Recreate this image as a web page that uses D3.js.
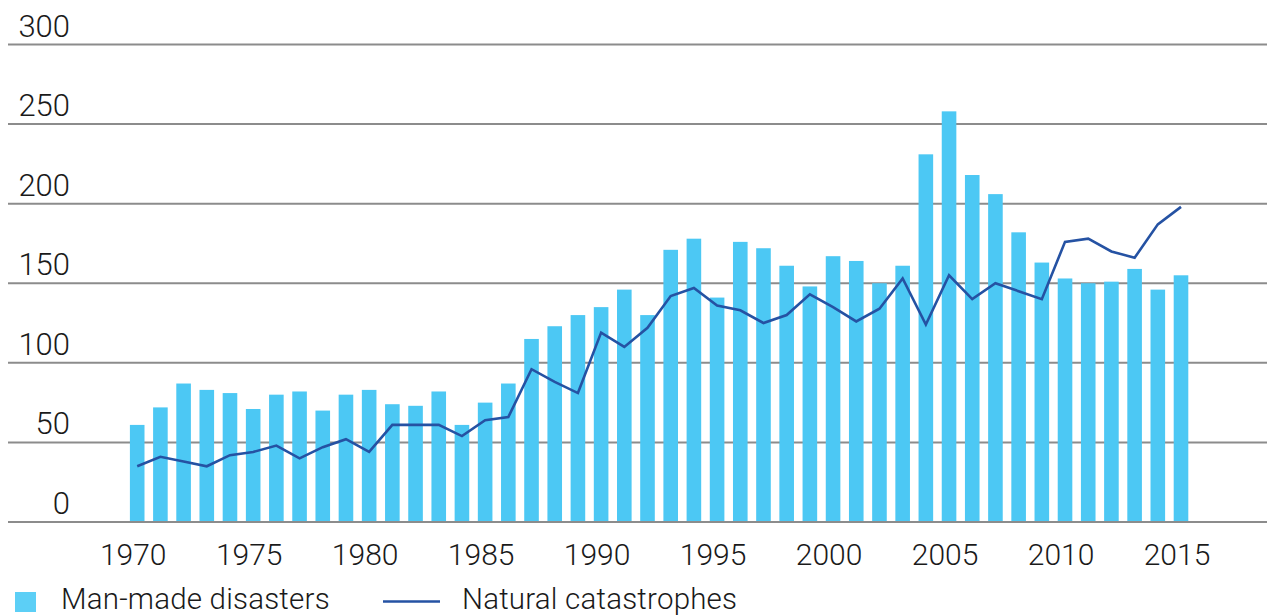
<!DOCTYPE html>
<html>
<head>
<meta charset="utf-8">
<script src="https://cdn.jsdelivr.net/npm/d3@7"></script>
<style>
  html, body { margin: 0; padding: 0; background: #fff; }
  svg { display: block; }
  text { font-family: Roboto, "Liberation Sans", Arial, sans-serif; font-weight: 300; fill: #1a1a1a; }
</style>
</head>
<body>
<svg id="chart" width="1267" height="616"></svg>
<script>
const years = d3.range(1970, 2016);
const manMade = [61, 72, 87, 83, 81, 71, 80, 82, 70, 80,
                 83, 74, 73, 82, 61, 75, 87, 115, 123, 130,
                 135, 146, 130, 171, 178, 141, 176, 172, 161, 148,
                 167, 164, 150, 161, 231, 258, 218, 206, 182, 163,
                 153, 150, 151, 159, 146, 155];
const natural = [35, 41, 38, 35, 42, 44, 48, 40, 47, 52,
                 44, 61, 61, 61, 54, 64, 66, 96, 88, 81,
                 119, 110, 122, 142, 147, 136, 133, 125, 130, 143,
                 135, 126, 134, 153, 124, 155, 140, 150, 145, 140,
                 176, 178, 170, 166, 187, 198];
const yTicks = [0, 50, 100, 150, 200, 250, 300];
const xTicks = [1970, 1975, 1980, 1985, 1990, 1995, 2000, 2005, 2010, 2015];
const legendLabels = ["Man-made disasters", "Natural catastrophes"];

const svg = d3.select("#chart");
const x = d3.scaleLinear().domain([1970, 2015]).range([137.2, 1181]);
const y = d3.scaleLinear().domain([0, 300]).range([522, 44.5]);
const barW = 14.6;
const barColor = "#4cc8f4";
const lineColor = "#2552a3";

// gridlines
svg.append("g").selectAll("line").data(yTicks.filter(d => d !== 0)).join("line")
  .attr("x1", 8).attr("x2", 1267)
  .attr("y1", d => y(d)).attr("y2", d => y(d))
  .attr("stroke", "#8c8c8c").attr("stroke-width", 2);

// y labels
svg.append("g").selectAll("text").data(yTicks).join("text")
  .attr("x", 70).attr("y", d => y(d) - 8)
  .attr("text-anchor", "end")
  .attr("font-size", 31)
  .text(d => d);

// bars
svg.append("g").selectAll("rect").data(years).join("rect")
  .attr("x", (d) => x(d) - barW / 2)
  .attr("width", barW)
  .attr("y", (d, i) => y(manMade[i]))
  .attr("height", (d, i) => y(0) - y(manMade[i]))
  .attr("fill", barColor);

// baseline
svg.append("line")
  .attr("x1", 8).attr("x2", 1267)
  .attr("y1", y(0)).attr("y2", y(0))
  .attr("stroke", "#8c8c8c").attr("stroke-width", 2);

// line
const line = d3.line().x((d) => x(d)).y((d, i) => y(natural[i]));
svg.append("path").datum(years)
  .attr("d", line)
  .attr("fill", "none")
  .attr("stroke", lineColor)
  .attr("stroke-width", 2.6)
  .attr("stroke-linejoin", "miter");

// x labels
svg.append("g").selectAll("text").data(xTicks).join("text")
  .attr("x", d => x(d) - 4).attr("y", 565)
  .attr("text-anchor", "middle")
  .attr("font-size", 30)
  .text(d => d);

// legend
const lg = svg.append("g");
lg.append("rect").attr("x", 15).attr("y", 592).attr("width", 21).attr("height", 20).attr("fill", "#5ccff6");
lg.append("text").attr("x", 61).attr("y", 609).attr("font-size", 29.5).attr("letter-spacing", 0.2).text(legendLabels[0]);
lg.append("line").attr("x1", 383).attr("x2", 440).attr("y1", 601.5).attr("y2", 601.5)
  .attr("stroke", lineColor).attr("stroke-width", 2.6);
lg.append("text").attr("x", 462).attr("y", 609).attr("font-size", 29.5).attr("letter-spacing", 0.2).text(legendLabels[1]);
</script>
</body>
</html>
